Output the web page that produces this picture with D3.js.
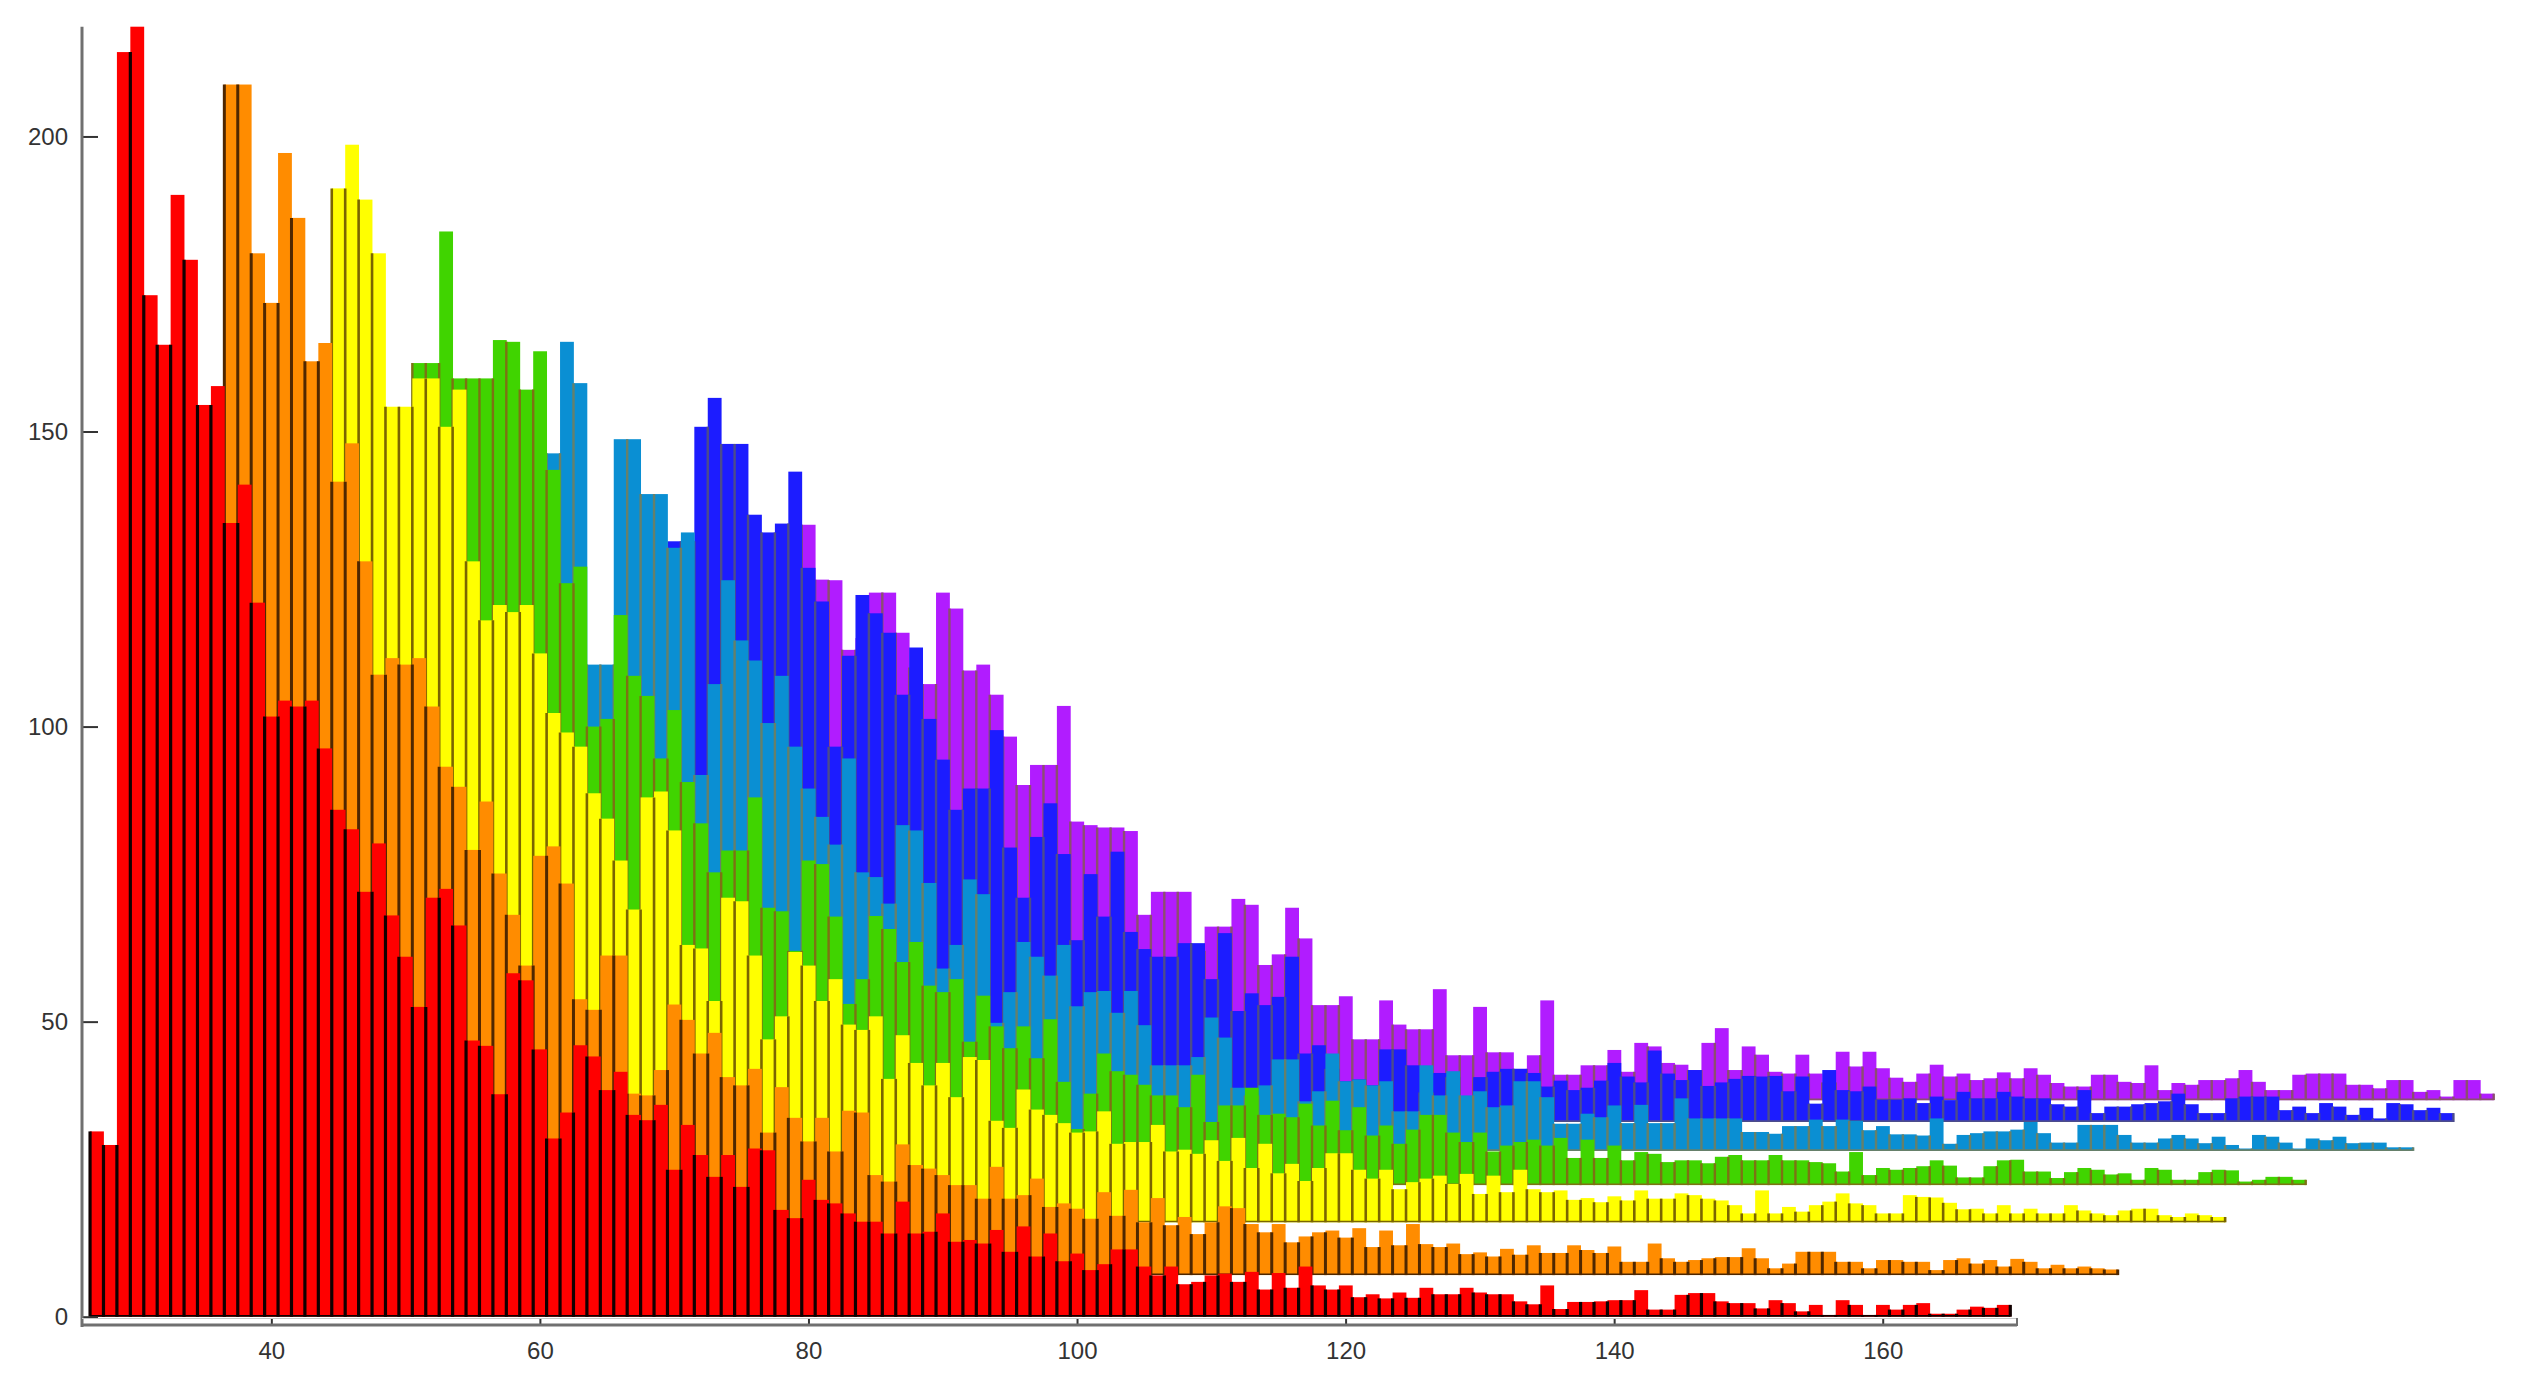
<!DOCTYPE html>
<meta charset="utf-8">
<script src="https://d3js.org/d3.v7.min.js"></script>
<style>
  body { margin: 0; background: #fff; }
  text { font-family: "Liberation Sans", Arial, sans-serif; }
</style>
<div id="chart"></div>
<script>

// series, front to back, with the first bin of each and its waterfall offset
var seriesNames = ["red", "orange", "yellow", "green", "cyan", "blue", "purple"];
var seriesStart = [27, 37, 45, 51, 57, 68, 76];
var seriesBase  = [0, 7.05, 16, 22.3, 28.1, 33, 36.7];

// bar tops (axis units), one per integer bin
var redTops = [
  31.4, 29.1, 214.3, 218.6, 173.1, 164.7, 190.1, 179.1, 154.5, 157.7,
  134.5, 141, 121, 101.7, 104.4, 103.4, 104.4, 96.3, 85.9, 82.6,
  72, 80.2, 68, 61, 52.5, 71, 72.5, 66.3, 46.8, 45.9,
  37.7, 58.2, 57, 45.3, 30.2, 34.6, 46, 44.1, 38.4, 41.5,
  34.2, 33.3, 35.9, 24.9, 32.5, 27.4, 23.7, 27.4, 22, 28.5,
  28.2, 18.1, 16.7, 23.2, 19.8, 19.2, 17.5, 16.1, 16.1, 14.1,
  19.5, 14.1, 14.4, 17.5, 12.7, 13, 12.4, 14.7, 11, 15.3,
  10.2, 14.1, 9.4, 10.7, 7.9, 8.9, 11.4, 11.4, 8.5, 7,
  8.5, 5.5, 5.9, 7, 7.3, 5.9, 7.6, 4.6, 7.4, 4.9,
  8.5, 5.3, 4.6, 5.3, 3.3, 3.8, 3.1, 4.1, 3.2, 4.9,
  3.8, 3.8, 4.9, 4.1, 3.8, 3.8, 2.6, 2.1, 5.3, 1.3,
  2.5, 2.5, 2.6, 2.8, 2.8, 4.5, 1.2, 1.2, 3.7, 4,
  4, 2.6, 2.3, 2.3, 1.4, 2.8, 2.3, 0.9, 2, 0.3,
  2.8, 2, 0.3, 2, 1.2, 2, 2.3, 0.5, 0.5, 1.2,
  1.7, 1.5, 2
];

var orangeTops = [
  208.8, 208.8, 180.2, 171.8, 197.2, 186.2, 161.9, 165, 141.5, 148,
  128, 108.8, 111.6, 110.5, 111.6, 103.4, 93.2, 89.8, 79.1, 87.3,
  75.1, 68.1, 59.5, 78.1, 79.7, 73.4, 53.8, 52, 61.2, 61.2,
  37.8, 37.5, 41.8, 52.9, 50.3, 44.6, 48.1, 40.6, 39.2, 42,
  31.2, 38.9, 33.7, 29.7, 33.7, 28, 34.9, 34.6, 24, 22.9,
  29.2, 25.7, 25.1, 24, 22.3, 22.3, 20, 25.4, 20, 20.6,
  23.4, 18.6, 19.2, 18.3, 16.6, 21.1, 17.1, 21.5, 16, 20.1,
  15.5, 16.9, 14, 16, 18.7, 18.4, 15.7, 14.3, 15.7, 12.6,
  13.6, 14.3, 14.6, 13.4, 15, 11.8, 14.6, 12.1, 15.7, 12.3,
  11.8, 12.4, 10.6, 10.9, 10.2, 11.5, 10.5, 12.1, 10.8, 10.8,
  12.1, 11.3, 10.8, 11.9, 9.3, 9.3, 12.4, 9.9, 9.3, 9.6,
  9.9, 10.1, 10.1, 11.6, 9.9, 8.2, 9, 11, 11, 11,
  9.3, 9.3, 8.2, 9.6, 9.6, 9.3, 9.3, 7.9, 9.6, 9.9,
  9, 9.6, 8.5, 9.8, 9.3, 8.2, 8.8, 8.2, 8.5, 8.2, 8
];

var yellowTops = [
  191.2, 198.6, 189.3, 180.2, 154.2, 154.2, 159, 159, 150.8, 157.1,
  128, 118, 120.6, 119.4, 120.6, 112.4, 102.3, 99, 96.6, 88.7,
  84.4, 77.3, 69, 88, 89, 82.4, 63, 62.4, 53.5, 71,
  70.4, 61.2, 47, 50.9, 61.8, 59.5, 53.5, 57.2, 49.5, 48.6,
  50.9, 40.3, 47.7, 43, 39.2, 43, 37.2, 44, 43.5, 33.2,
  32, 38.5, 35.1, 34.2, 32.8, 31.2, 31.4, 34.8, 29.3, 29.6,
  29.6, 32.5, 28, 28.3, 27.6, 29.9, 26.4, 30.3, 25.2, 29.3,
  24.3, 25.9, 23, 25.2, 27.7, 27.7, 24.9, 23.4, 24.9, 21.6,
  22.8, 23.4, 23.9, 22.5, 24.2, 20.8, 23.9, 21.1, 24.9, 21.6,
  21.1, 21.4, 19.8, 20.1, 19.4, 20.4, 19.7, 21.4, 20, 20,
  20.9, 20.6, 20, 19.7, 18.9, 17.5, 21.4, 17.5, 18.6, 17.8,
  18.9, 19.5, 20.9, 19.2, 18.9, 17.5, 17.5, 20.6, 20.3, 20.2,
  19.3, 18.2, 18.3, 17.5, 18.9, 17.5, 18.3, 17.5, 17.5, 18.9,
  18, 17.5, 17.2, 18, 18.3, 18.3, 17.2, 16.9, 17.5, 17.2, 16.9
];

var greenTops = [
  161.6, 161.6, 183.9, 159, 159, 159, 165.5, 165.2, 157.1, 163.6,
  143.5, 124.3, 127.1, 100, 101.3, 118.9, 108.6, 105.2, 94.6, 102.8,
  90.6, 83.6, 75.3, 79, 79, 88, 69.3, 68.7, 62, 77.3,
  76.7, 67.8, 53, 57.2, 67.9, 65.7, 60.1, 63.5, 56.1, 55,
  57.2, 46.6, 54.4, 49.2, 45.5, 49.2, 43.8, 50.4, 39.8, 31.8,
  37.8, 44.6, 41.6, 41, 39.3, 37.5, 37.5, 35.5, 41, 33,
  35.8, 35.8, 38.8, 34.2, 34.4, 33.8, 36.1, 32.4, 36.6, 31.6,
  35.5, 30.7, 32.4, 29.3, 31.7, 34.2, 34.2, 31.2, 29.6, 31.2,
  28, 29, 29.6, 30, 29, 30.3, 26.9, 30, 26.9, 29,
  26.5, 27.9, 27.6, 26.2, 26.5, 26.5, 26, 27.1, 27.4, 26.5,
  26.5, 27.4, 26.5, 26.5, 26.2, 26, 24.6, 27.9, 24, 25.2,
  24.9, 25.2, 25.5, 26.5, 25.6, 23.6, 23.6, 25.5, 26.5, 26.6,
  24.6, 24.6, 23.5, 24.5, 25.2, 24.9, 24.1, 24.3, 23.2, 25.2, 24.9,
  23.2, 23.2, 24.5, 24.9, 24.8, 22.9, 23.2, 23.7, 23.7, 23.2
];

var cyanTops = [
  125, 140, 146.3, 146.3, 146.3, 165.2, 158.2, 110.5, 110.5, 148.7,
  148.7, 139.4, 139.4, 130.3, 132.9, 91.8, 107.2, 124.8, 114.6, 111.2,
  100.6, 108.6, 96.6, 89.5, 84.7, 80, 94.6, 75.3, 74.5, 70,
  83.3, 82.4, 73.5, 59, 63, 74.1, 71.6, 49.8, 55, 63.5,
  61, 57.8, 63, 52.6, 55, 55.2, 51.5, 55.2, 49.4, 42.6,
  42.6, 42.6, 44, 50.7, 47.3, 38.8, 37.5, 39.2, 43.6, 43.6,
  36.5, 38.2, 44.6, 39.9, 40.2, 39.2, 39.9, 34.8, 34.8, 42.6,
  37.5, 41.6, 37.5, 38.2, 35.5, 35.8, 39.9, 39.9, 37.2, 32.7,
  32.7, 34.4, 33.8, 35.8, 32.8, 35.9, 32.8, 32.8, 37, 33.6,
  33.6, 33.6, 33.6, 31.3, 31.3, 31, 32.3, 32.3, 33.4, 32.3,
  33.4, 33.2, 31.6, 32.3, 30.9, 30.9, 30.7, 33.6, 29.3, 30.8,
  31.1, 31.4, 31.4, 31.7, 33, 31.1, 29.5, 29.5, 32.5, 32.5,
  32.5, 30.8, 29.5, 29.5, 30.2, 30.8, 30.2, 29.4, 30.5, 29.1,
  28.5, 30.8, 30.5, 29.5, 28.5, 30.2, 29.9, 30.5, 29.4, 29.5,
  29.5, 28.7, 28.7
];

var blueTops = [
  120, 125, 131.4, 131.4, 150.8, 155.7, 147.9, 147.9, 135.9, 132.9,
  134.4, 143.2, 126.9, 121.2, 96.6, 112, 122.3, 119.2, 115.9, 105.4,
  113.4, 101.3, 94.4, 85.9, 89.5, 89.5, 99.4, 79.5, 71, 81.3,
  87, 78.4, 63.8, 75, 67.8, 78.8, 65.2, 62.3, 61, 61,
  63.3, 63.3, 57.2, 65, 51.8, 54.8, 52.8, 54.2, 61, 44.6,
  46, 42, 39.9, 40.2, 39.2, 45.3, 45.3, 42.6, 38, 41.3,
  40.6, 37, 40.6, 41.5, 42, 42, 41.3, 39, 40, 38.4,
  38.8, 40, 43, 40.7, 39.7, 45.1, 41.2, 40.1, 41.8, 39.1,
  39.7, 40.3, 40.8, 40.7, 40.8, 38.2, 40.7, 36.1, 41.8, 38.4,
  38.2, 39, 36.8, 36.8, 37, 36.2, 37.3, 36.7, 38.1, 37,
  37, 38.1, 37.3, 37, 37, 36, 35.6, 38.4, 34.5, 35.6,
  35.6, 36, 36.2, 36.5, 37.8, 36, 34.5, 34.5, 37, 37.3,
  37.3, 37.3, 35, 35.6, 34.5, 36.2, 35.6, 34.2, 35.4, 33.6,
  36.2, 36, 35, 35.4, 34.5
];

var purpleTops = [
  118, 125, 125, 134.2, 134.2, 124.9, 124.8, 113, 115, 122.7,
  122.7, 115.9, 110, 107.2, 122.7, 120, 109.5, 110.5, 105.4, 98.3,
  90.1, 93.5, 93.5, 103.5, 83.9, 83.3, 82.9, 82.9, 82.3, 68.1,
  72, 72, 72, 62, 66.1, 66.1, 70.8, 69.8, 59.6, 61.4,
  69.3, 64.1, 52.8, 52.8, 54.3, 47, 47, 53.6, 49.5, 48.7,
  48.7, 55.5, 44.3, 44.3, 52.5, 44.8, 44.8, 42, 44.3, 53.6,
  41, 41, 42.6, 42.6, 45.2, 41.5, 46.4, 45.8, 43, 42.7,
  41.8, 46.4, 48.9, 41.8, 45.8, 44.4, 41.5, 41.2, 44.4, 41.2,
  39.7, 44.9, 42.4, 44.9, 42.1, 40.5, 39.8, 41.2, 42.7, 40.7,
  41.2, 40.1, 40.4, 41.4, 40.4, 42.1, 41, 39.6, 39, 39,
  41, 41, 39.8, 39.6, 42.6, 38.4, 39.6, 39.3, 40.1, 40.1,
  40.4, 41.8, 39.8, 38.4, 38.4, 41, 41.2, 41.2, 41.2, 39.3,
  39.3, 38.7, 40.1, 40.1, 38.1, 38.4, 37.3, 40.1, 40.1, 37.8
];

var seriesTops = [redTops, orangeTops, yellowTops, greenTops, cyanTops, blueTops, purpleTops];

var xTicks = [40, 60, 80, 100, 120, 140, 160];
var yTicks = [0, 50, 100, 150, 200];

var fills = ["#ff0000", "#ff8c00", "#ffff00", "#40d400", "#0a8fd3", "#1c1cff", "#b11cff"];
var edges = ["#100000", "#4f2700", "#7a6600", "#7d7214", "#66806a", "#4c4c8c", "#8c4e70"];
var edgeWidth = [3.2, 3, 2.6, 2.4, 2.4, 2.4, 2.4];

var svg = d3.select("#chart")
  .append("svg")
    .attr("width", 2542)
    .attr("height", 1392);

var x = d3.scaleLinear()
  .domain([25.9, 170])
  .range([82, 2017]);

var y = d3.scaleLinear()
  .domain([0, 218.6])
  .range([1316.7, 26.7]);

// draw back series first so red ends up in front
d3.range(seriesNames.length).reverse().forEach(function(s) {
  var tops = seriesTops[s], base = seriesBase[s], start = seriesStart[s];
  var bars = tops.map(function(v, i) {
    return {bin: start + i, top: v};
  }).filter(function(d) { return d.top > base; });

  var g = svg.append("g").attr("class", "series-" + seriesNames[s]);

  g.selectAll("rect")
    .data(bars)
    .enter()
    .append("rect")
      .attr("x", function(d) { return x(d.bin - 0.5); })
      .attr("width", function(d) { return x(d.bin + 0.5) - x(d.bin - 0.5) + 0.4; })
      .attr("y", function(d) { return y(d.top); })
      .attr("height", function(d) { return y(base) - y(d.top); })
      .attr("fill", fills[s]);

  // dark edges between neighbouring bars, from the lower of the two tops
  var seps = tops.map(function(v, i) {
    return {pos: start + i - 0.5, top: i === 0 ? v : Math.min(v, tops[i - 1])};
  });
  seps.push({pos: start + tops.length - 0.5, top: tops[tops.length - 1]});

  g.selectAll("line.sep")
    .data(seps.filter(function(d) { return d.top > base; }))
    .enter()
    .append("line")
      .attr("class", "sep")
      .attr("x1", function(d) { return x(d.pos); })
      .attr("x2", function(d) { return x(d.pos); })
      .attr("y1", function(d) { return y(d.top); })
      .attr("y2", y(base))
      .attr("stroke", edges[s])
      .attr("stroke-width", edgeWidth[s]);

  g.append("line")
    .attr("x1", x(start - 0.5))
    .attr("x2", x(start + tops.length - 0.5))
    .attr("y1", y(base) - 0.8)
    .attr("y2", y(base) - 0.8)
    .attr("stroke", edges[s])
    .attr("stroke-width", 1.6);
});

// Y axis, ticks point inward
var yAxis = svg.append("g")
  .attr("transform", "translate(82,0)")
  .call(d3.axisLeft(y).tickValues(yTicks).tickSizeInner(-16).tickSizeOuter(0).tickPadding(14));
yAxis.select(".domain").remove();
yAxis.selectAll(".tick line").attr("stroke", "#333").attr("stroke-width", 2);
yAxis.selectAll(".tick text")
  .style("font-size", "24px")
  .style("fill", "#333");

svg.append("line")
  .attr("x1", 82).attr("x2", 82)
  .attr("y1", 26.7).attr("y2", 1327)
  .attr("stroke", "#707070")
  .attr("stroke-width", 3);

// X axis
var xAxis = svg.append("g")
  .attr("transform", "translate(0,1325)")
  .call(d3.axisBottom(x).tickValues(xTicks).tickSizeInner(-7).tickSizeOuter(0).tickPadding(17));
xAxis.select(".domain").remove();
xAxis.selectAll(".tick line").attr("stroke", "#333").attr("stroke-width", 2);
xAxis.selectAll(".tick text")
  .style("font-size", "24px")
  .style("fill", "#333");

svg.append("line")
  .attr("x1", 82).attr("x2", 2017)
  .attr("y1", 1325).attr("y2", 1325)
  .attr("stroke", "#707070")
  .attr("stroke-width", 3);
svg.append("line")
  .attr("x1", 82).attr("x2", 2017)
  .attr("y1", 1318.5).attr("y2", 1318.5)
  .attr("stroke", "#c8c8c8")
  .attr("stroke-width", 1);
svg.append("line")
  .attr("x1", 2017).attr("x2", 2017)
  .attr("y1", 1318).attr("y2", 1326)
  .attr("stroke", "#707070")
  .attr("stroke-width", 2);

</script>
